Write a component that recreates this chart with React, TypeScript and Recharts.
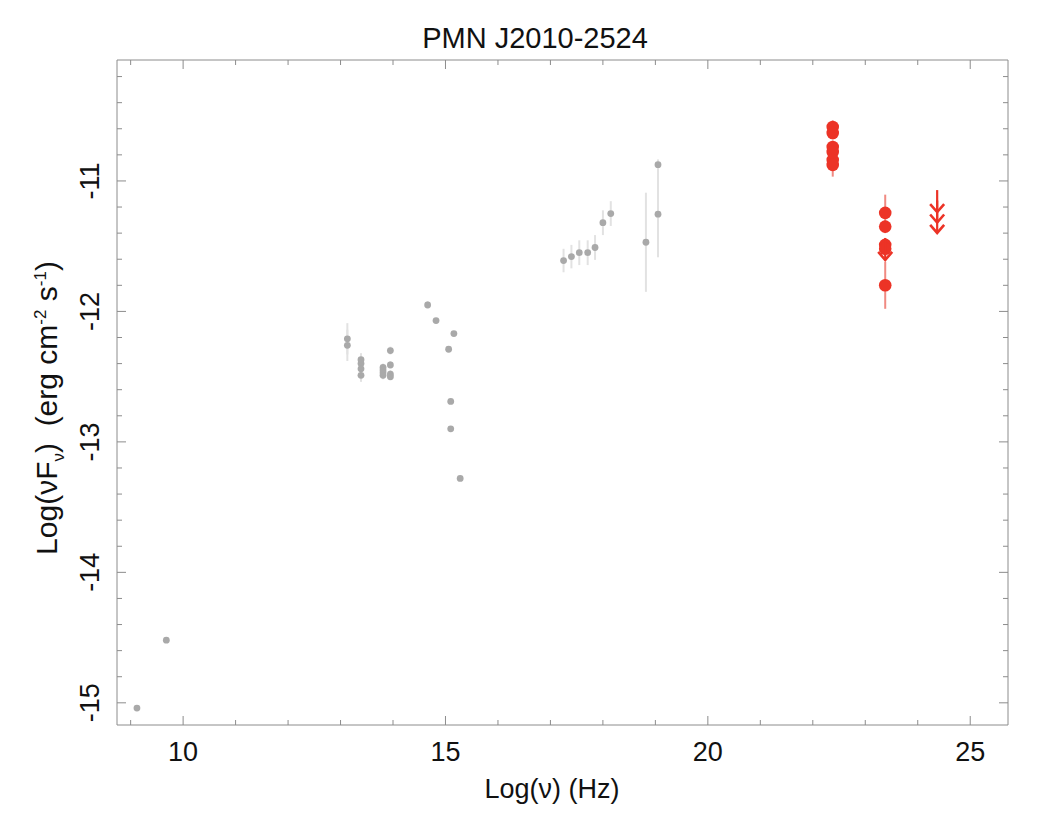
import { ScatterChart, Scatter, XAxis, YAxis, ErrorBar } from 'recharts'

// archival SED points (grey): log nu, log nuFnu, error below, error above
const greyNu = [9.12, 9.68, 13.13, 13.13, 13.39, 13.39, 13.39, 13.39, 13.81, 13.81, 13.81, 13.81, 13.95, 13.95, 13.95, 13.95, 14.66, 14.82, 15.16, 15.06, 15.1, 15.1, 15.28, 17.25, 17.4, 17.55, 17.71, 17.85, 18.0, 18.15, 18.82, 19.05, 19.05]
const greyFlux = [-15.04, -14.52, -12.21, -12.26, -12.37, -12.4, -12.44, -12.49, -12.43, -12.45, -12.47, -12.49, -12.3, -12.41, -12.48, -12.5, -11.95, -12.07, -12.17, -12.29, -12.69, -12.9, -13.28, -11.61, -11.58, -11.55, -11.55, -11.51, -11.32, -11.25, -11.47, -10.875, -11.255]
const greyErrLo = [0, 0, 0.12, 0.12, 0.05, 0.05, 0.05, 0.05, 0.03, 0.03, 0.03, 0.03, 0.03, 0.03, 0.03, 0.03, 0.03, 0.02, 0.02, 0.02, 0, 0, 0, 0.09, 0.09, 0.095, 0.095, 0.095, 0.095, 0.095, 0.38, 0.04, 0.33]
const greyErrHi = [0, 0, 0.12, 0.12, 0.05, 0.05, 0.05, 0.05, 0.03, 0.03, 0.03, 0.03, 0.03, 0.03, 0.03, 0.03, 0.03, 0.02, 0.02, 0.02, 0, 0, 0, 0.09, 0.09, 0.095, 0.095, 0.095, 0.095, 0.095, 0.38, 0.04, 0.375]

// gamma-ray detections (red)
const gammaNu = [22.38, 22.38, 22.38, 22.38, 22.38, 22.38, 23.38, 23.38, 23.38, 23.38, 23.38]
const gammaFlux = [-10.586, -10.632, -10.74, -10.778, -10.839, -10.877, -11.245, -11.35, -11.49, -11.52, -11.8]
const gammaErrLo = [0.05, 0.05, 0.05, 0.05, 0.06, 0.09, 0.14, 0.05, 0.05, 0.05, 0.18]
const gammaErrHi = [0.05, 0.05, 0.05, 0.05, 0.05, 0.05, 0.14, 0.05, 0.05, 0.05, 0.18]

// gamma-ray upper limits
const limitNu = [23.38, 24.37, 24.37, 24.37]
const limitFlux = [-11.437, -11.07, -11.15, -11.23]

const xTicks = [9, 10, 11, 12, 13, 14, 15, 16, 17, 18, 19, 20, 21, 22, 23, 24, 25]
const yTicks = [-15, -14.8, -14.6, -14.4, -14.2, -14, -13.8, -13.6, -13.4, -13.2, -13, -12.8, -12.6, -12.4, -12.2, -12, -11.8, -11.6, -11.4, -11.2, -11, -10.8, -10.6, -10.4, -10.2]
const xLabels = [10, 15, 20, 25]
const yLabels = [-15, -14, -13, -12, -11]

const FONT = '"Liberation Sans", Arial, Helvetica, sans-serif'
const AXIS = '#8c8c8c'
const RED = '#ec3326'

const greyData = greyNu.map((x, i) => ({ x, y: greyFlux[i], err: [greyErrLo[i], greyErrHi[i]] }))
const gammaData = gammaNu.map((x, i) => ({ x, y: gammaFlux[i], err: [gammaErrLo[i], gammaErrHi[i]] }))
const limitData = limitNu.map((x, i) => ({ x, y: limitFlux[i] }))

const isLabel = (v: number, list: number[]) => list.some((l) => Math.abs(l - v) < 1e-6)

function BottomTick({ x, y, payload }: any) {
  const major = isLabel(payload.value, xLabels)
  return (
    <g>
      <line x1={x} x2={x} y1={y} y2={y - (major ? 9 : 5)} stroke={AXIS} />
      {major && (
        <text x={x} y={y + 27} textAnchor="middle" dominantBaseline="central" fontSize={27} fontFamily={FONT} fill="#111">
          {payload.value}
        </text>
      )}
    </g>
  )
}

function TopTick({ x, y, payload }: any) {
  const major = isLabel(payload.value, xLabels)
  return <line x1={x} x2={x} y1={y} y2={y + (major ? 9 : 5)} stroke={AXIS} />
}

function LeftTick({ x, y, payload }: any) {
  const major = isLabel(payload.value, yLabels)
  return (
    <g>
      <line x1={x} x2={x + (major ? 9 : 5)} y1={y} y2={y} stroke={AXIS} />
      {major && (
        <text
          x={x - 27}
          y={y}
          textAnchor="middle"
          dominantBaseline="central"
          fontSize={27}
          fontFamily={FONT}
          fill="#111"
          transform={`rotate(-90 ${x - 27} ${y})`}
        >
          {payload.value}
        </text>
      )}
    </g>
  )
}

function RightTick({ x, y, payload }: any) {
  const major = isLabel(payload.value, yLabels)
  return <line x1={x} x2={x - (major ? 9 : 5)} y1={y} y2={y} stroke={AXIS} />
}

function UpperLimit({ cx, cy }: any) {
  return (
    <g stroke={RED} strokeWidth={2.2} fill="none">
      <line x1={cx} x2={cx} y1={cy} y2={cy + 22} />
      <polyline points={`${cx - 7},${cy + 14} ${cx},${cy + 22} ${cx + 7},${cy + 14}`} strokeWidth={2.6} />
    </g>
  )
}

export default function App() {
  const xDomain = [8.74, 25.72]
  const yDomain = [-15.17, -10.073]

  return (
    <div style={{ position: 'absolute', left: 0, top: 0, width: 1054, height: 826, background: '#fff', fontFamily: FONT }}>
      <div style={{ position: 'absolute', left: 535, top: 38, transform: 'translate(-50%, -50%)', fontSize: 29, whiteSpace: 'nowrap', color: '#111' }}>
        PMN J2010-2524
      </div>
      <div style={{ position: 'absolute', left: 552, top: 789, transform: 'translate(-50%, -50%)', fontSize: 27, whiteSpace: 'nowrap', color: '#111' }}>
        Log(ν) (Hz)
      </div>
      <div
        style={{
          position: 'absolute',
          left: 49,
          top: 408,
          transform: 'translate(-50%, -50%) rotate(-90deg)',
          fontSize: 30,
          whiteSpace: 'nowrap',
          color: '#111',
        }}
      >
        Log(νF<sub style={{ fontSize: 17 }}>ν</sub>)&nbsp;&nbsp;(erg cm<sup style={{ fontSize: 17 }}>-2</sup> s<sup style={{ fontSize: 17 }}>-1</sup>)
      </div>

      <ScatterChart width={1054} height={826} margin={{ top: 50, right: 36, bottom: 41, left: 57 }} style={{ position: 'absolute', left: 0, top: 0 }}>
        <XAxis
          xAxisId="b"
          type="number"
          dataKey="x"
          domain={xDomain}
          allowDataOverflow
          ticks={xTicks}
          interval={0}
          height={60}
          tickSize={0}
          tickMargin={0}
          tickLine={false}
          axisLine={{ stroke: AXIS }}
          tick={<BottomTick />}
        />
        <XAxis
          xAxisId="t"
          orientation="top"
          type="number"
          dataKey="x"
          domain={xDomain}
          allowDataOverflow
          ticks={xTicks}
          interval={0}
          height={10}
          tickSize={0}
          tickMargin={0}
          tickLine={false}
          axisLine={{ stroke: AXIS }}
          tick={<TopTick />}
        />
        <YAxis
          yAxisId="l"
          type="number"
          dataKey="y"
          domain={yDomain}
          allowDataOverflow
          ticks={yTicks}
          interval={0}
          width={60}
          tickSize={0}
          tickMargin={0}
          tickLine={false}
          axisLine={{ stroke: AXIS }}
          tick={<LeftTick />}
        />
        <YAxis
          yAxisId="r"
          orientation="right"
          type="number"
          dataKey="y"
          domain={yDomain}
          allowDataOverflow
          ticks={yTicks}
          interval={0}
          width={10}
          tickSize={0}
          tickMargin={0}
          tickLine={false}
          axisLine={{ stroke: AXIS }}
          tick={<RightTick />}
        />

        <Scatter
          xAxisId="b"
          yAxisId="l"
          data={greyData}
          isAnimationActive={false}
          shape={(p: any) => <circle cx={p.cx} cy={p.cy} r={3.4} fill="#a9a9a9" />}
        >
          <ErrorBar dataKey="err" direction="y" width={0} stroke="#e2e2e2" strokeWidth={2} />
        </Scatter>
        <Scatter
          xAxisId="b"
          yAxisId="l"
          data={gammaData}
          isAnimationActive={false}
          shape={(p: any) => <circle cx={p.cx} cy={p.cy} r={6.3} fill={RED} />}
        >
          <ErrorBar dataKey="err" direction="y" width={0} stroke="#f08a82" strokeWidth={2} />
        </Scatter>
        <Scatter xAxisId="b" yAxisId="l" data={limitData} isAnimationActive={false} shape={<UpperLimit />} />
      </ScatterChart>
    </div>
  )
}
